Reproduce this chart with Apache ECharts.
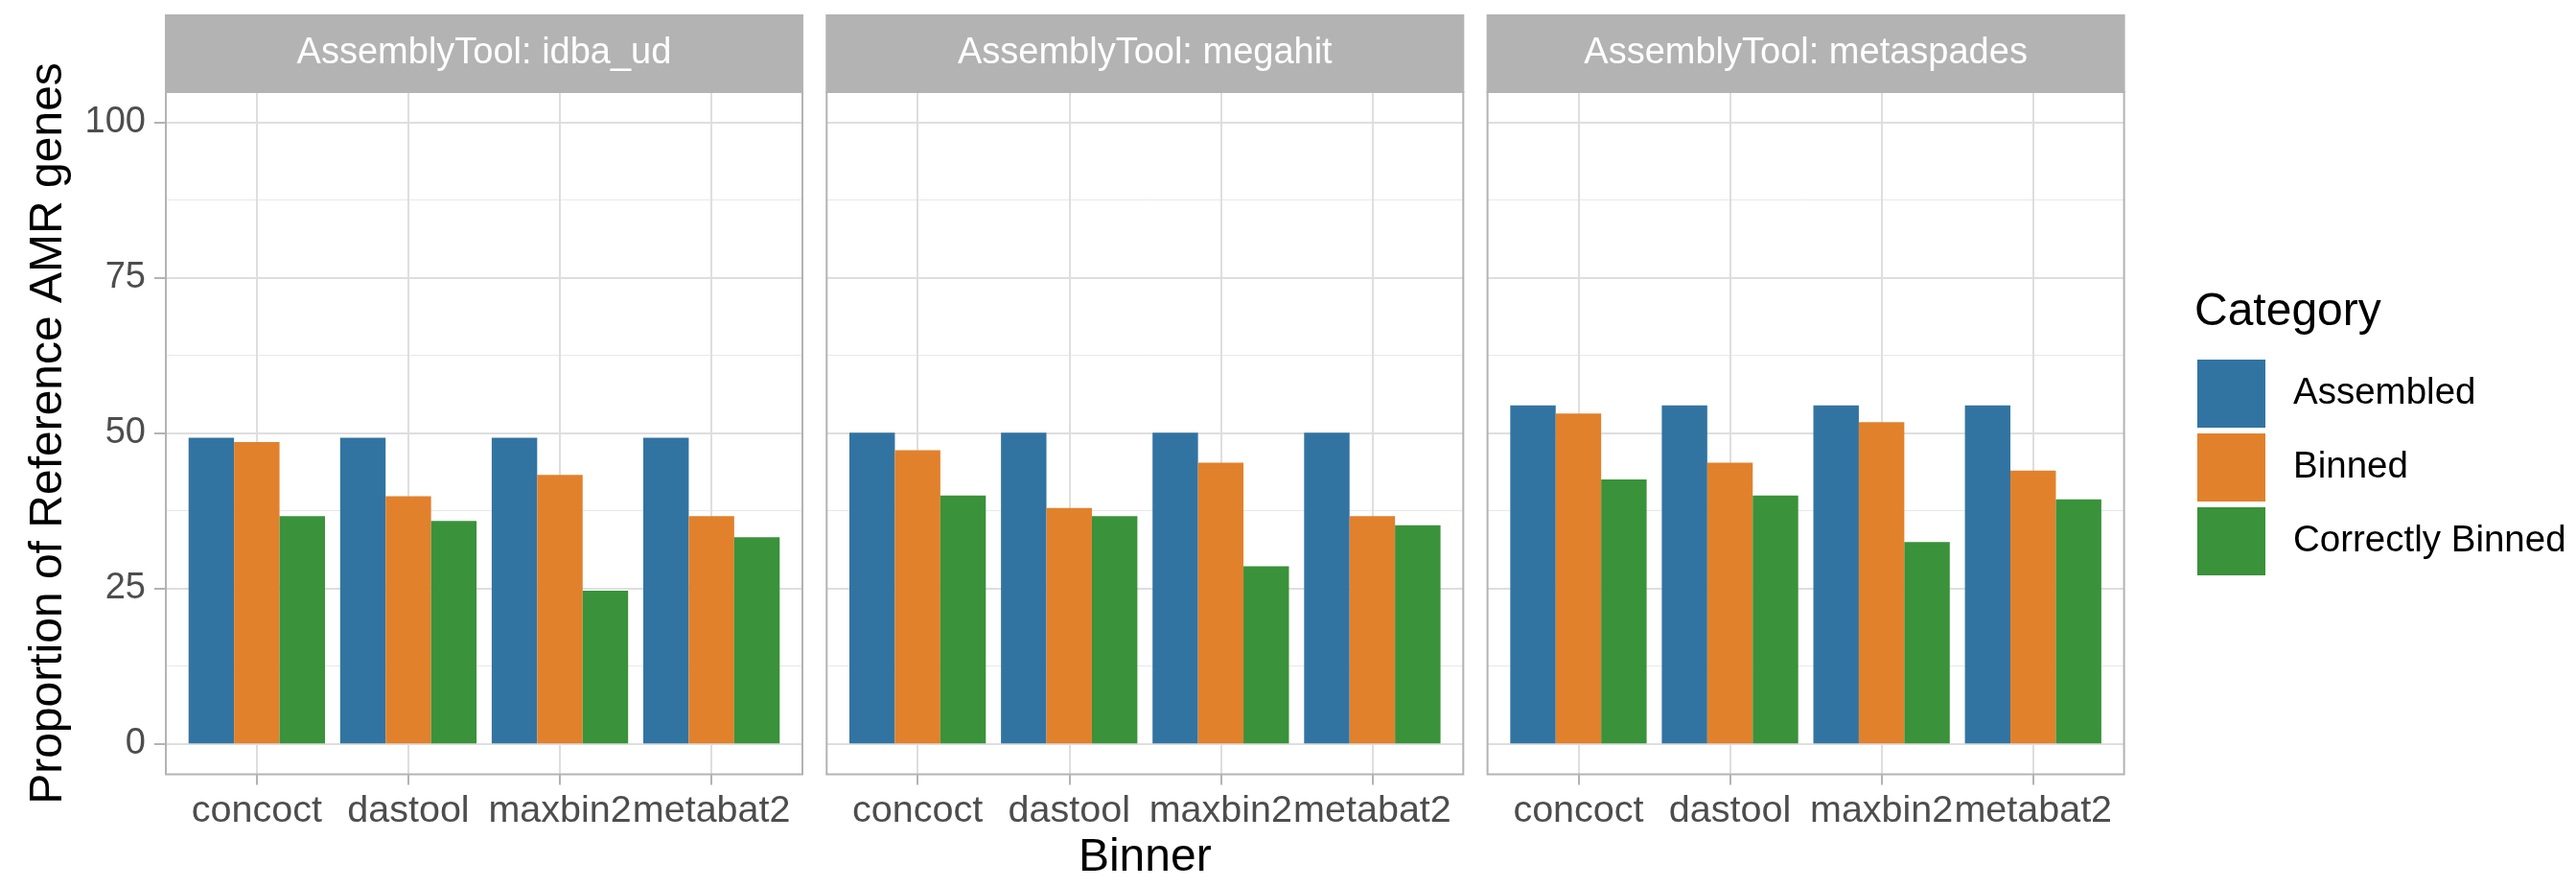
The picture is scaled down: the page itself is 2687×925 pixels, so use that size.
<!DOCTYPE html>
<html>
<head>
<meta charset="utf-8">
<script src="https://cdn.jsdelivr.net/npm/echarts@6/dist/echarts.min.js"></script>
<style>
  html, body { margin: 0; padding: 0; background: #ffffff; }
  #chart { width: 2687px; height: 925px; }
</style>
</head>
<body>
<div id="chart"></div>
<script>
// Facet labels and x categories
const assemblyTools = ['idba_ud', 'megahit', 'metaspades'];
const binners = ['concoct', 'dastool', 'maxbin2', 'metabat2'];
const categories = ['Assembled', 'Binned', 'Correctly Binned'];
const yTicks = [0, 25, 50, 75, 100];

// Proportion of reference AMR genes (%), one array per tool and category
const idbaAssembled = [49.2, 49.2, 49.2, 49.2];
const idbaBinned = [48.5, 39.8, 43.2, 36.6];
const idbaCorrect = [36.6, 35.8, 24.6, 33.2];

const megahitAssembled = [50.0, 50.0, 50.0, 50.0];
const megahitBinned = [47.2, 37.9, 45.2, 36.6];
const megahitCorrect = [39.9, 36.6, 28.5, 35.1];

const metaspadesAssembled = [54.4, 54.4, 54.4, 54.4];
const metaspadesBinned = [53.1, 45.2, 51.7, 43.9];
const metaspadesCorrect = [42.5, 39.9, 32.4, 39.3];

const panelValues = [
  [idbaAssembled, idbaBinned, idbaCorrect],
  [megahitAssembled, megahitBinned, megahitCorrect],
  [metaspadesAssembled, metaspadesBinned, metaspadesCorrect]
];

const colors = ['#3274a1', '#e1812c', '#3a923a'];
const FONT = '"Liberation Sans", Arial, sans-serif';
const GRID_COLOR = '#dedede';
const FRAME_COLOR = '#b3b3b3';
const TICK_FONT = 39.5;

// Panel geometry (pixels)
const panelLeft0 = 173;
const panelStep = 689.3;
const panelWidth = 664;
const panelTop = 96;
const panelBottom = 807.5;
const stripTop = 15;
const band = panelWidth / 4.2;         // one category slot, with 0.6 slot padding on each side
const yMinPx = 127.3;                  // pixel of y = 100
const yZeroPx = 775.3;                 // pixel of y = 0

const grids = [], xAxes = [], yAxes = [], series = [], graphics = [];

assemblyTools.forEach((tool, p) => {
  const L = panelLeft0 + p * panelStep;

  // Grid A: horizontal grid lines across the full panel width, y ticks/labels
  const gA = grids.length;
  grids.push({ left: L, top: yMinPx, width: panelWidth, height: yZeroPx - yMinPx });
  xAxes.push({ gridIndex: gA, type: 'value', min: 0, max: 1, show: false });
  yAxes.push({
    gridIndex: gA, type: 'value', min: 0, max: 100, interval: 25,
    axisLine: { show: false },
    axisTick: { show: p === 0, length: 12, lineStyle: { color: FRAME_COLOR, width: 2 } },
    axisLabel: {
      show: p === 0, margin: 21, fontSize: 38, color: '#4d4d4d', fontFamily: FONT,
      customValues: yTicks
    },
    splitLine: { show: true, lineStyle: { color: GRID_COLOR, width: 2 } },
    minorTick: { show: false, splitNumber: 2 },
    minorSplitLine: { show: true, lineStyle: { color: '#e8e8e8', width: 1 } }
  });

  // Grid B: vertical grid lines, x ticks and labels at the category centres
  const gB = grids.length;
  grids.push({ left: L + 0.6 * band, top: panelTop, width: 3 * band, height: panelBottom - panelTop });
  xAxes.push({
    gridIndex: gB, type: 'category', data: binners, boundaryGap: false, position: 'bottom',
    axisLine: { show: false },
    axisTick: { show: true, length: 11, lineStyle: { color: FRAME_COLOR, width: 2 } },
    axisLabel: { margin: 19, fontSize: TICK_FONT, color: '#4d4d4d', fontFamily: FONT, interval: 0 },
    splitLine: { show: true, lineStyle: { color: GRID_COLOR, width: 2 } }
  });
  yAxes.push({ gridIndex: gB, type: 'value', min: 0, max: 1, show: false });

  // Grid C: the bars
  const gC = grids.length;
  grids.push({ left: L + 0.1 * band, top: yMinPx, width: 4 * band, height: yZeroPx - yMinPx });
  xAxes.push({ gridIndex: gC, type: 'category', data: binners, boundaryGap: true, show: false });
  yAxes.push({ gridIndex: gC, type: 'value', min: 0, max: 100, show: false });

  categories.forEach((cat, k) => {
    series.push({
      name: cat, type: 'bar',
      xAxisIndex: gC, yAxisIndex: gC,
      data: panelValues[p][k],
      barGap: '0%', barCategoryGap: '10%',
      itemStyle: { color: colors[k] },
      emphasis: { disabled: true },
      z: 3
    });
  });

  // Panel border and facet strip
  graphics.push({
    type: 'rect', z: 100,
    shape: { x: L, y: panelTop, width: panelWidth, height: panelBottom - panelTop },
    style: { fill: null, stroke: FRAME_COLOR, lineWidth: 2 }
  });
  graphics.push({
    type: 'rect', z: 101,
    shape: { x: L - 1, y: stripTop, width: panelWidth + 2, height: panelTop - stripTop + 1 },
    style: { fill: FRAME_COLOR }
  });
  graphics.push({
    type: 'text', z: 102, x: L + panelWidth / 2, y: (stripTop + panelTop) / 2,
    style: {
      text: 'AssemblyTool: ' + tool, fill: '#ffffff', fontSize: 38, fontFamily: FONT,
      textAlign: 'center', textVerticalAlign: 'middle'
    }
  });
});

// Axis titles
graphics.push({
  type: 'text', z: 102, x: 51, y: 452, rotation: Math.PI / 2,
  style: {
    text: 'Proportion of Reference AMR genes', fill: '#000000', fontSize: 48, fontFamily: FONT,
    textAlign: 'center', textVerticalAlign: 'middle'
  }
});
graphics.push({
  type: 'text', z: 102, x: panelLeft0 + panelStep + panelWidth / 2, y: 895,
  style: {
    text: 'Binner', fill: '#000000', fontSize: 48, fontFamily: FONT,
    textAlign: 'center', textVerticalAlign: 'middle'
  }
});

const chart = echarts.init(document.getElementById('chart'), null, { renderer: 'canvas' });
chart.setOption({
  animation: false,
  backgroundColor: '#ffffff',
  title: {
    text: 'Category', left: 2289, top: 302, padding: 0,
    textStyle: { fontSize: 48, fontWeight: 'normal', color: '#000000', fontFamily: FONT }
  },
  legend: {
    data: categories, orient: 'vertical', left: 2292, top: 375, padding: 0,
    icon: 'rect', itemWidth: 71, itemHeight: 71, itemGap: 6,
    selectedMode: false,
    textStyle: { fontSize: 38.5, color: '#000000', fontFamily: FONT, padding: [0, 0, 0, 24] }
  },
  grid: grids,
  xAxis: xAxes,
  yAxis: yAxes,
  series: series,
  graphic: graphics
});
</script>
</body>
</html>
